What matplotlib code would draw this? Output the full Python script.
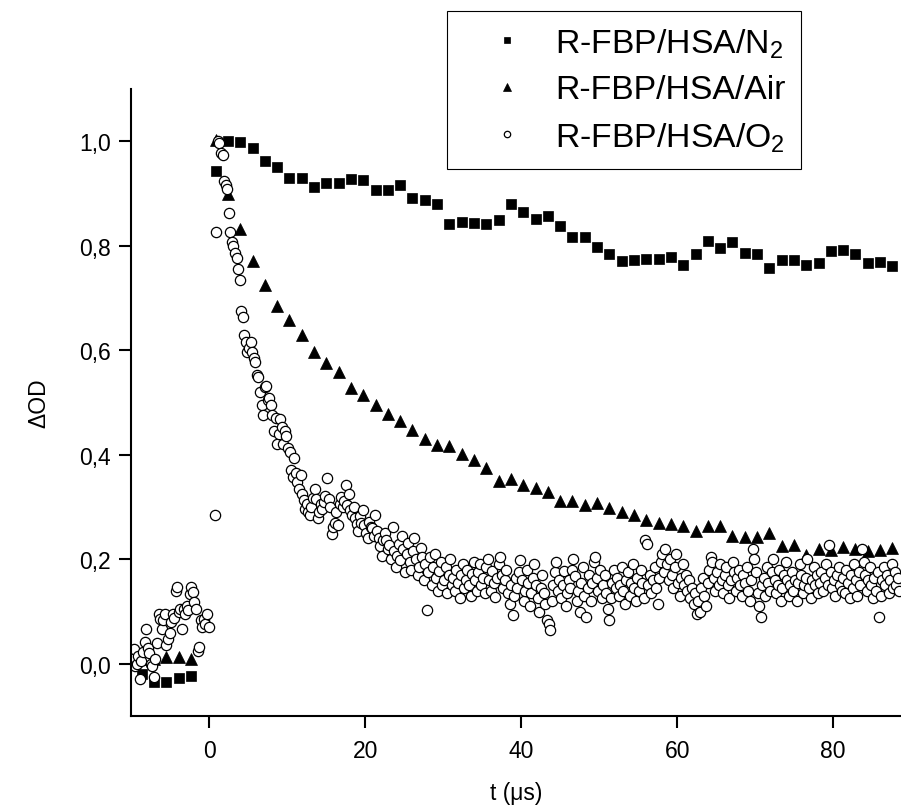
import numpy as np
import matplotlib
matplotlib.use("Agg")
import matplotlib.pyplot as plt
from matplotlib.ticker import FuncFormatter

plt.rcParams['font.family'] = ['Liberation Sans', 'DejaVu Sans']
plt.rcParams['mathtext.fontset'] = 'custom'
plt.rcParams['mathtext.rm'] = 'Liberation Sans'
plt.rcParams['mathtext.default'] = 'regular'

labels = ["R-FBP/HSA/N$_2$", "R-FBP/HSA/Air", "R-FBP/HSA/O$_2$"]

# slow series: common time base (us), one point every ~1.58 us
slow_t0, slow_dt = -8.66, 1.578
nan = np.nan
n2_y = [-0.020, -0.035, -0.034, -0.027, -0.024, nan,
        0.943, 1.001, 0.999, 0.988, 0.962, 0.951, 0.929, 0.929, 0.912, 0.921,
        0.921, 0.927, 0.925, 0.907, 0.906, 0.916, 0.892, 0.888, 0.879, 0.842,
        0.846, 0.844, 0.841, 0.849, 0.879, 0.865, 0.852, 0.857, 0.838, 0.816,
        0.816, 0.797, 0.784, 0.771, 0.773, 0.774, 0.775, 0.778, 0.764, 0.785,
        0.810, 0.795, 0.808, 0.787, 0.784, 0.758, 0.773, 0.772, 0.764, 0.767,
        0.790, 0.791, 0.784, 0.767, 0.769, 0.762]
air_y = [0.010, 0.010, 0.012, 0.012, 0.010, nan,
         1.003, 0.900, 0.833, 0.771, 0.725, 0.684, 0.658, 0.629, 0.596, 0.576,
         0.559, 0.527, 0.514, 0.495, 0.478, 0.465, 0.448, 0.430, 0.418, 0.416,
         0.402, 0.389, 0.374, 0.349, 0.354, 0.343, 0.337, 0.328, 0.312, 0.311,
         0.303, 0.308, 0.298, 0.291, 0.285, 0.276, 0.270, 0.267, 0.263, 0.254,
         0.263, 0.263, 0.245, 0.243, 0.243, 0.251, 0.225, 0.227, 0.209, 0.220,
         0.217, 0.224, 0.219, 0.215, 0.217, 0.222]

# O2 series: one point every 0.2 us starting at -9.9 us
o2_t0, o2_dt = -9.9, 0.2
o2_y = [
    0.010, 0.029, -0.005, 0.000, 0.015, -0.029, 0.005, 0.023, 0.042, 0.067,
    0.030, 0.020, 0.000, -0.004, -0.025, 0.010, 0.040, 0.096, 0.086, 0.067,
    0.083, 0.095, 0.035, 0.048, 0.058, 0.080, 0.096, 0.088, 0.140, 0.147,
    0.099, 0.105, 0.067, 0.105, 0.095, 0.110, 0.102, 0.134, 0.147, 0.137,
    0.118, 0.105, 0.025, 0.032, 0.083, 0.070, 0.086, 0.077, 0.095, 0.070,
    nan, nan, nan,
    0.284, 0.826, 1.000, 0.996, 0.978, 0.974, 0.923, 0.916, 0.909, 0.862,
    0.826, 0.808, 0.800, 0.787, 0.776, 0.755, 0.734, 0.675, 0.664, 0.629,
    0.616, 0.597, 0.605, 0.616, 0.597, 0.585, 0.578, 0.552, 0.549, 0.520,
    0.495, 0.476, 0.530, 0.532, 0.505, 0.509, 0.495, 0.476, 0.445, 0.470,
    0.421, 0.440, 0.469, 0.453, 0.421, 0.445, 0.436, 0.413, 0.405, 0.370,
    0.358, 0.393, 0.365, 0.348, 0.335, 0.361, 0.325, 0.313, 0.297, 0.305,
    0.290, 0.284, 0.300, 0.318, 0.335, 0.316, 0.278, 0.290, 0.305, 0.297,
    0.310, 0.322, 0.356, 0.316, 0.300, 0.249, 0.262, 0.270, 0.290, 0.265,
    0.305, 0.319, 0.300, 0.312, 0.343, 0.303, 0.324, 0.295, 0.285, 0.300,
    0.278, 0.268, 0.255, 0.282, 0.270, 0.294, 0.265, 0.250, 0.240, 0.272,
    0.262, 0.259, 0.245, 0.284, 0.255, 0.240, 0.225, 0.207, 0.236, 0.250,
    0.236, 0.220, 0.227, 0.200, 0.262, 0.215, 0.185, 0.207, 0.230, 0.198,
    0.245, 0.220, 0.175, 0.210, 0.232, 0.195, 0.180, 0.215, 0.240, 0.200,
    0.170, 0.185, 0.222, 0.205, 0.160, 0.190, 0.103, 0.175, 0.205, 0.150,
    0.185, 0.210, 0.165, 0.140, 0.178, 0.195, 0.150, 0.160, 0.185, 0.135,
    0.170, 0.200, 0.150, 0.165, 0.140, 0.180, 0.155, 0.125, 0.170, 0.190,
    0.145, 0.160, 0.180, 0.150, 0.130, 0.172, 0.195, 0.160, 0.140, 0.175,
    0.190, 0.150, 0.165, 0.135, 0.185, 0.200, 0.160, 0.140, 0.178, 0.155,
    0.128, 0.165, 0.190, 0.205, 0.170, 0.145, 0.160, 0.180, 0.135, 0.115,
    0.150, 0.093, 0.130, 0.165, 0.145, 0.175, 0.198, 0.160, 0.120, 0.140,
    0.180, 0.155, 0.110, 0.135, 0.165, 0.190, 0.150, 0.125, 0.100, 0.145,
    0.170, 0.135, 0.115, 0.083, 0.077, 0.064, 0.120, 0.150, 0.175, 0.195,
    0.140, 0.160, 0.125, 0.150, 0.178, 0.110, 0.135, 0.160, 0.145, 0.180,
    0.200, 0.168, 0.120, 0.140, 0.100, 0.155, 0.185, 0.130, 0.090, 0.145,
    0.170, 0.120, 0.155, 0.195, 0.205, 0.165, 0.140, 0.180, 0.125, 0.150,
    0.170, 0.135, 0.105, 0.083, 0.125, 0.155, 0.180, 0.145, 0.165, 0.130,
    0.150, 0.185, 0.140, 0.115, 0.160, 0.175, 0.130, 0.155, 0.190, 0.145,
    0.120, 0.165, 0.140, 0.180, 0.155, 0.125, 0.236, 0.230, 0.150, 0.170,
    0.135, 0.160, 0.185, 0.145, 0.115, 0.165, 0.195, 0.210, 0.175, 0.220,
    0.190, 0.160, 0.200, 0.170, 0.145, 0.185, 0.210, 0.155, 0.130, 0.165,
    0.190, 0.150, 0.170, 0.140, 0.160, 0.125, 0.145, 0.115, 0.135, 0.095,
    0.120, 0.100, 0.145, 0.165, 0.130, 0.110, 0.155, 0.180, 0.205, 0.195,
    0.165, 0.140, 0.175, 0.150, 0.190, 0.160, 0.135, 0.170, 0.185, 0.150,
    0.125, 0.160, 0.195, 0.175, 0.140, 0.165, 0.180, 0.150, 0.130, 0.170,
    0.155, 0.185, 0.140, 0.120, 0.160, 0.220, 0.200, 0.175, 0.135, 0.110,
    0.090, 0.150, 0.165, 0.130, 0.185, 0.155, 0.140, 0.175, 0.200, 0.160,
    0.135, 0.150, 0.180, 0.120, 0.145, 0.170, 0.195, 0.160, 0.130, 0.150,
    0.175, 0.140, 0.160, 0.120, 0.155, 0.190, 0.170, 0.135, 0.150, 0.165,
    0.200, 0.145, 0.125, 0.160, 0.185, 0.150, 0.170, 0.135, 0.155, 0.175,
    0.140, 0.165, 0.190, 0.150, 0.228, 0.175, 0.145, 0.160, 0.130, 0.170,
    0.185, 0.150, 0.140, 0.165, 0.135, 0.180, 0.155, 0.125, 0.170, 0.145,
    0.190, 0.160, 0.130, 0.175, 0.150, 0.220, 0.195, 0.170, 0.140, 0.160,
    0.185, 0.150, 0.125, 0.165, 0.140, 0.175, 0.090, 0.130, 0.160, 0.185,
    0.150, 0.170, 0.135, 0.160, 0.190, 0.145, 0.175, 0.150, 0.165, 0.140,
]

x_ticks = [0, 20, 40, 60, 80]
y_ticks = [0.0, 0.2, 0.4, 0.6, 0.8, 1.0]

slow_t = slow_t0 + slow_dt * np.arange(len(n2_y))
o2_t = o2_t0 + o2_dt * np.arange(len(o2_y))

fig = plt.figure(figsize=(9.01, 8.12), dpi=100)
ax = fig.add_axes([131.3 / 901, 95 / 812, 1 - 131.3 / 901, 627 / 812])

ax.plot(slow_t, n2_y, ls='none', marker='s', ms=6.8, mfc='black', mec='black',
        mew=0.5, label=labels[0], clip_on=False)
ax.plot(slow_t, air_y, ls='none', marker='^', ms=9.0, mfc='black', mec='black',
        mew=0.5, label=labels[1], clip_on=False)
ax.plot(o2_t, o2_y, ls='none', marker='o', ms=7.4, mfc='white', mec='black',
        mew=0.9, label=labels[2])

ax.set_xlim(-10, 88.7)
ax.set_ylim(-0.1, 1.1)
ax.set_xticks(x_ticks)
ax.set_yticks(y_ticks)
ax.xaxis.set_major_formatter(FuncFormatter(lambda v, p: f"{v:.0f}"))
ax.yaxis.set_major_formatter(FuncFormatter(lambda v, p: f"{v:.1f}".replace('.', ',')))

for s in ['top', 'right']:
    ax.spines[s].set_visible(False)
for s in ['left', 'bottom']:
    ax.spines[s].set_linewidth(1.5)
ax.tick_params(direction='out', length=8.5, width=1.5, labelsize=16.5, pad=6)
ax.tick_params(axis='x', pad=8)

ax.set_xlabel("t (\u03bcs)", fontsize=16.5, labelpad=14)
ax.set_ylabel("\u0394OD", fontsize=16.5, labelpad=21)

leg = ax.legend(loc='upper left', bbox_to_anchor=(447 / 901, 1 - 12 / 812),
                bbox_transform=fig.transFigure, borderaxespad=0, fontsize=24.3,
                markerscale=0.62, handlelength=2.65, handletextpad=0.1,
                borderpad=0.45, labelspacing=0.44, fancybox=False, framealpha=1,
                edgecolor='black')
leg.get_frame().set_linewidth(0.8)

fig.savefig("out.png", dpi=100)
